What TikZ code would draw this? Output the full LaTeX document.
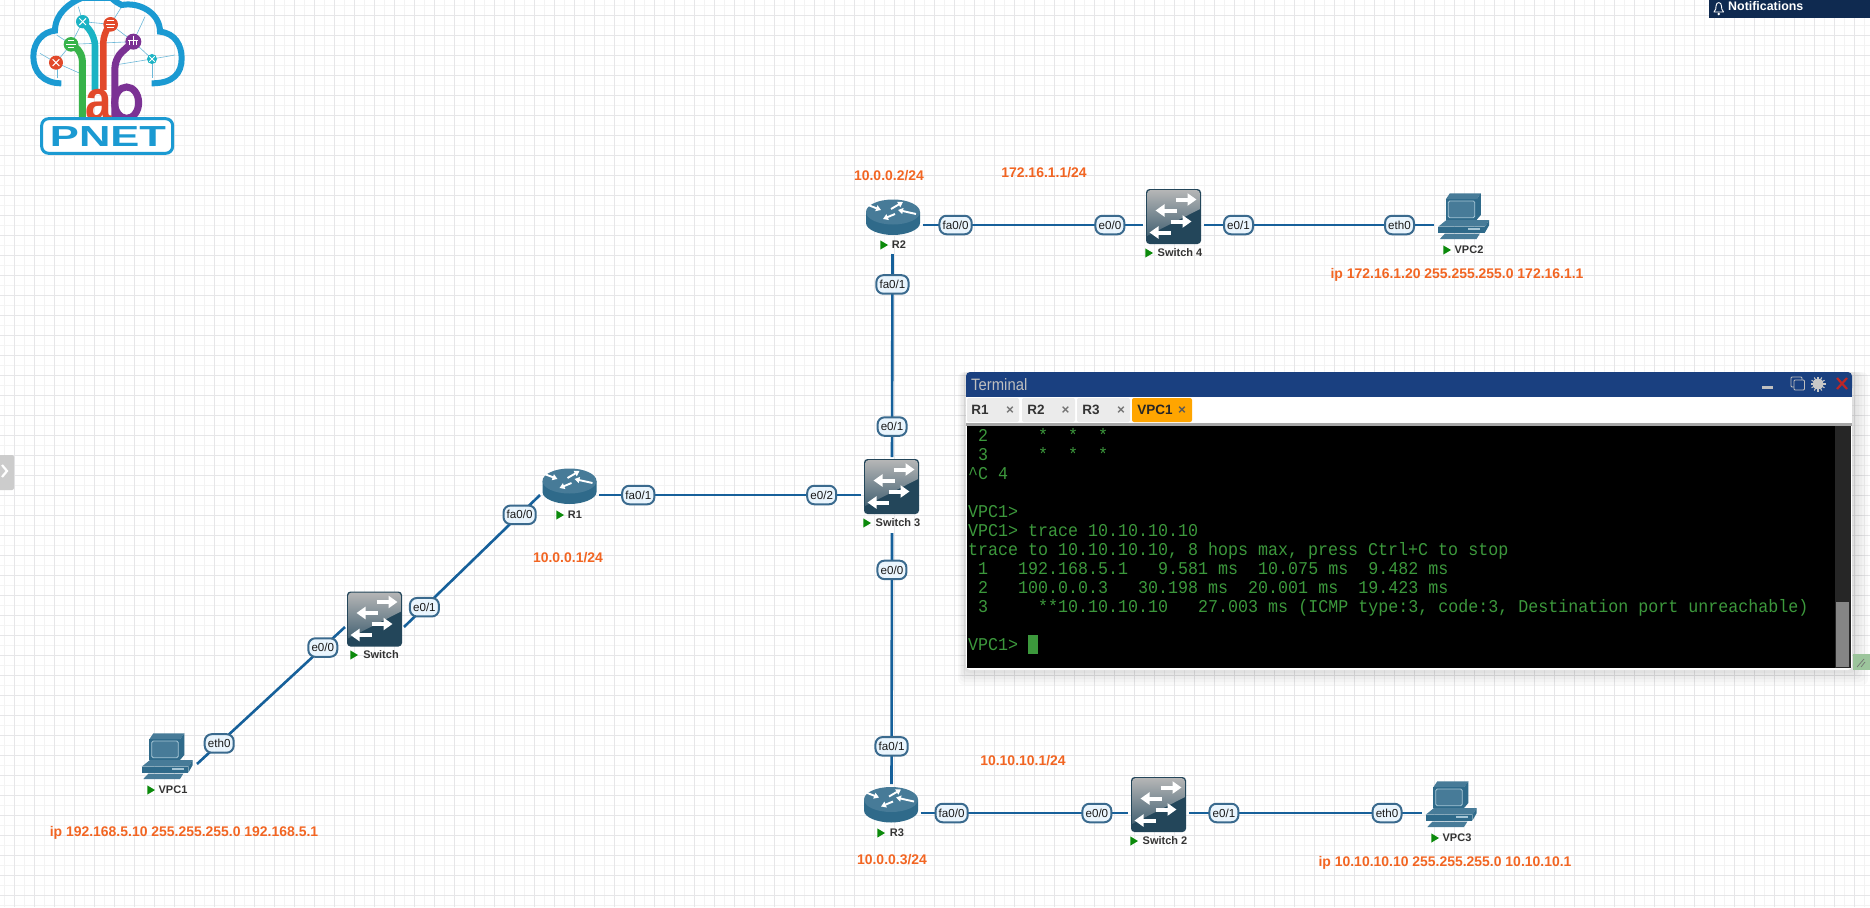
\documentclass[tikz,border=0pt]{standalone}
\usepackage{fontspec}
\setmainfont{Liberation Sans}
\newfontfamily\termfont[FakeStretch=0.926]{Liberation Mono}
\usetikzlibrary{arrows.meta}
\definecolor{gridminor}{HTML}{F3F3F3}
\definecolor{gridmajor}{HTML}{E6E6E8}
\definecolor{linkblue}{HTML}{16609A}
\definecolor{portedge}{HTML}{3A6A8E}
\definecolor{portfill}{HTML}{EAF5FD}
\definecolor{iptext}{HTML}{F26522}
\definecolor{devlight}{HTML}{477B98}
\definecolor{devdark}{HTML}{2F6A8A}
\definecolor{devline}{HTML}{A6C6D6}
\definecolor{swdark}{HTML}{23465A}
\definecolor{playgreen}{HTML}{0B8A0B}
\definecolor{termgreen}{HTML}{3C983C}
\definecolor{termblue}{HTML}{1A4080}
\definecolor{notifblue}{HTML}{0F2A50}
\definecolor{logoblue}{HTML}{1B9AD2}
\definecolor{logogreen}{HTML}{37B34A}
\definecolor{logoteal}{HTML}{1BB3C4}
\definecolor{logored}{HTML}{E2492A}
\definecolor{logopurple}{HTML}{7B3294}
\definecolor{logothin}{HTML}{6CB8D8}
\definecolor{taborange}{HTML}{FFA500}
\definecolor{gripgreen}{HTML}{9CC59C}
\tikzset{
  x=1pt,y=-1pt,
  netnode/.style={rectangle,inner sep=0pt,outer sep=0pt,draw=none,minimum width=#1},
  link/.style={draw=linkblue,line width=2.6pt},
  port/.style={rounded corners=7pt,draw=portedge,line width=2pt,fill=portfill,
    inner xsep=3.2pt,inner ysep=0pt,minimum height=18.5pt,text=black!90,
    font=\fontsize{11.6}{13}\selectfont},
  ipnote/.style={text=iptext,inner sep=0pt,yshift=-1pt,font=\fontsize{13.95}{16}\bfseries\selectfont},
  devname/.style={text=black!80,inner sep=0pt,font=\fontsize{11}{13}\bfseries\selectfont},
  termline/.style={anchor=base west,inner sep=0pt,text=termgreen,font=\termfont\fontsize{18}{19}\selectfont},
  tabtext/.style={inner sep=0pt,font=\fontsize{13.5}{15}\bfseries\selectfont},
  tabx/.style={inner sep=0pt,font=\fontsize{13.5}{14}\bfseries\selectfont},
  devarrow/.style={white,line width=1.9pt,-{Triangle[width=6pt,length=5pt]}},
  swarrow/.style={white,line width=4pt,-{Triangle[width=12pt,length=9pt]}},
  routerpic/.pic={
    \fill[devdark] (-27,-5) -- (-27,6) .. controls (-27,13) and (-13,18) .. (0,18)
      .. controls (13,18) and (27,13) .. (27,6) -- (27,-5) -- cycle;
    \fill[devlight] (0,-5) ellipse [x radius=27,y radius=12.5];
    \draw[devarrow] (-25,-12) -- (-12,-7);
    \draw[devarrow] (-2,-8) -- (10,-15);
    \draw[devarrow] (2,-3) -- (-10,2);
    \draw[devarrow] (23,-3) -- (5,-7);
  },
  switchpic/.pic={
    \fill[swdark,rounded corners=3.5pt] (-27.5,-27.5) rectangle (27.5,27.5);
    \begin{scope}
      \clip[rounded corners=3pt] (-26.3,-26.3) rectangle (26.3,26.3);
      \shade[top color=black!28,bottom color=swdark!85!white]
        (-27.5,-27.5) -- (27.5,-27.5) -- (27.5,-8) -- (-27.5,20) -- cycle;
    \end{scope}
    \draw[swarrow] (2,-17) -- (23,-17);
    \draw[swarrow] (3,-6) -- (-18,-6);
    \draw[swarrow] (-3,5) -- (18,5);
    \draw[swarrow] (-3,16) -- (-24,16);
  },
  pcpic/.pic={
    \fill[devlight] (-18.2,-16.7) -- (-14.2,-22.7) -- (16.8,-22.7) -- (12.5,-16.7) -- cycle;
    \fill[devdark] (12.5,-16.7) -- (16.8,-22.7) -- (16.8,-1) -- (12.5,4) -- cycle;
    \fill[devdark] (-18.2,-16.7) rectangle (12.5,4);
    \draw[devline,line width=.8pt,rounded corners=1.5pt,fill=devlight] (-15.8,-15) rectangle (10.8,1.7);
    \fill[devlight] (-25.8,10.7) -- (-17.5,4) -- (25.2,4) -- (20.8,10.7) -- cycle;
    \fill[devdark] (-25.8,10.7) -- (20.8,10.7) -- (20.8,16.7) -- (-25.8,16.7) -- cycle;
    \fill[devdark] (20.8,10.7) -- (25.2,4) -- (25.2,9) -- (20.8,16.7) -- cycle;
    \fill[devline] (4,12.2) rectangle (16,13.8);
    \fill[devlight] (-24.2,23) -- (-19.2,17.7) -- (15.8,17.7) -- (12.5,23) -- cycle;
  }
}
\newcommand{\devlabel}[5]{% name, triangle x, text x, y, text
  \fill[playgreen] (#2-3.7,#4+1-4.6) -- (#2+4,#4+1) -- (#2-3.7,#4+1+4.6) -- cycle;
  \node[devname] (#1) at (#3,#4+1) {#5};
}
\newcommand{\tline}[3]{\node[termline] (#1) at (968,#2+6.5) {#3};}
\begin{document}
\begin{tikzpicture}
\useasboundingbox (0,0) rectangle (1870,907);
\fill[white] (0,0) rectangle (1870,907);
% grid
\foreach \g in {4,14,...,1864} \draw[gridminor,line width=.8pt] (\g,0) -- (\g,907);
\foreach \g in {5,15,...,905} \draw[gridminor,line width=.8pt] (0,\g) -- (1870,\g);
\foreach \g in {14,34,...,1864} \draw[gridmajor,line width=.8pt] (\g,0) -- (\g,907);
\foreach \g in {15,35,...,905} \draw[gridmajor,line width=.8pt] (0,\g) -- (1870,\g);
% logo
\begin{scope}[x=.33333pt,y=-.33333pt]
  \clip (0,0) rectangle (660,510);
  \begin{scope}[logothin,line width=.6pt]
    \draw (120,160) -- (168,188) -- (213,133) -- (170,105);
    \draw (213,133) -- (248,65) -- (332,73) -- (400,125) -- (213,133);
    \draw (248,65) -- (235,20);
    \draw (332,73) -- (365,20);
    \draw (400,125) -- (435,50);
    \draw (400,125) -- (456,177) -- (525,165);
    \draw (456,177) -- (345,195);
    \draw (168,188) -- (240,220);
    \draw (172,235) -- (172,188);
    \draw (456,177) -- (456,235);
  \end{scope}
  \draw[logoblue,line width=6pt,line cap=butt] (184,250)
    .. controls (130,250) and (100,215) .. (100,170)
    .. controls (100,125) and (130,95) .. (165,92)
    .. controls (165,40) and (210,8) .. (245,-6)
    -- (335,-6)
    .. controls (345,5) and (355,10) .. (365,15)
    .. controls (420,5) and (480,40) .. (480,95)
    .. controls (525,100) and (545,135) .. (545,175)
    .. controls (545,220) and (520,250) .. (455,250);
  \draw[logogreen,line width=7pt,rounded corners=9pt] (213,133) -- (247,155) -- (247,358);
  \draw[logoteal,line width=6.5pt,rounded corners=9pt] (248,65) -- (285,110) -- (285,270);
  \draw[logored,line width=6.5pt,rounded corners=9pt] (332,73) -- (310,100) -- (310,270);
  \draw[logopurple,line width=7pt,rounded corners=9pt] (400,125) -- (345,175) -- (345,360);
  \draw[logopurple,line width=7pt] (380,308) ellipse [x radius=36,y radius=47];
  \node[inner sep=0pt,text=logored] (logoa) at (297,314) {\scalebox{1.08}[1.32]{\fontsize{44}{46}\bfseries\selectfont a}};
  \fill[logored] (168,188) circle (21);
  \fill[logogreen] (213,133) circle (22);
  \fill[logoteal] (248,65) circle (20);
  \fill[logored] (332,73) circle (22);
  \fill[logopurple] (400,125) circle (24);
  \fill[logoteal] (456,177) circle (15);
  \draw[white,line width=1pt] (158,178) -- (178,198) (178,178) -- (158,198);
  \draw[white,line width=1pt] (198,133) -- (228,133) (205,123) -- (221,123) (205,143) -- (221,143);
  \draw[white,line width=1pt] (238,55) -- (258,75) (258,55) -- (238,75);
  \draw[white,line width=1pt] (318,73) -- (346,73) (322,62) -- (342,62) (322,84) -- (342,84);
  \draw[white,line width=1pt] (385,122) -- (415,122) (400,108) -- (400,122) (389,122) -- (389,135) (400,122) -- (400,135) (411,122) -- (411,135);
  \draw[white,line width=.9pt] (448,169) -- (464,185) (464,169) -- (448,185);
  \draw[logoblue,line width=3pt,rounded corners=7pt,fill=white] (125,356) rectangle (518,460);
  \node[inner sep=0pt,text=logoblue] (logopnet) at (324,410) {\scalebox{1.5}[1]{\fontsize{29}{31}\bfseries\selectfont PNET}};
\end{scope}
% device boxes used as connector ends
\node[netnode=59pt,minimum height=58pt] (R1) at (569.5,495) {};
\node[netnode=60pt,minimum height=58pt] (R2) at (892.5,225) {};
\node[netnode=58pt,minimum height=58pt] (R3) at (891.5,813) {};
\node[netnode=59pt,minimum height=58pt] (SW) at (374.5,627) {};
\node[netnode=62pt,minimum height=76pt] (SW3) at (892,495) {};
\node[netnode=61pt,minimum height=58pt] (SW4) at (1173.5,225) {};
\node[netnode=61pt,minimum height=58pt] (SW2) at (1158.5,813) {};
\node[netnode=60pt,minimum height=58pt] (VPC1) at (167,764) {};
\node[netnode=60pt,minimum height=58pt] (VPC2) at (1464,225) {};
\node[netnode=59pt,minimum height=58pt] (VPC3) at (1451.5,813) {};
% connectors
\draw[link] (VPC1.east) -- node[port,pos=.15]{eth0} node[port,pos=.85]{e0/0} (SW.west);
\draw[link] (SW.east) -- node[port,pos=.15]{e0/1} node[port,pos=.85]{fa0/0} (R1.west);
\draw[link] (R1.east) -- node[port,pos=.15]{fa0/1} node[port,pos=.85]{e0/2} (SW3.west);
\draw[link] (R2.south) -- node[port,pos=.15]{fa0/1} node[port,pos=.85]{e0/1} (SW3.north);
\draw[link] (SW3.south) -- node[port,pos=.147]{e0/0} node[port,pos=.85]{fa0/1} (R3.north);
\draw[link] (R2.east) -- node[port,pos=.15]{fa0/0} node[port,pos=.85]{e0/0} (SW4.west);
\draw[link] (SW4.east) -- node[port,pos=.15]{e0/1} node[port,pos=.85]{eth0} (VPC2.west);
\draw[link] (R3.east) -- node[port,pos=.15]{fa0/0} node[port,pos=.85]{e0/0} (SW2.west);
\draw[link] (SW2.east) -- node[port,pos=.15]{e0/1} node[port,pos=.85]{eth0} (VPC3.west);
% icons
\pic at (569.5,486) {routerpic};
\pic at (893,217) {routerpic};
\pic at (891,804.5) {routerpic};
\pic at (374.5,619) {switchpic};
\pic at (891.5,486.5) {switchpic};
\pic at (1173.5,216.5) {switchpic};
\pic at (1158.5,804.5) {switchpic};
\pic at (167.5,756) {pcpic};
\pic at (1464,216) {pcpic};
\pic at (1451.5,804) {pcpic};
% device names
\devlabel{nR1}{560}{575}{514}{R1}
\devlabel{nR2}{884}{899}{244}{R2}
\devlabel{nR3}{881}{897}{832}{R3}
\devlabel{nSW}{354}{381}{654}{Switch}
\devlabel{nSW3}{867}{898}{522}{Switch 3}
\devlabel{nSW4}{1149}{1180}{252}{Switch 4}
\devlabel{nSW2}{1134}{1165}{840}{Switch 2}
\devlabel{nVPC1}{151}{173}{789}{VPC1}
\devlabel{nVPC2}{1447}{1469}{249}{VPC2}
\devlabel{nVPC3}{1435}{1457}{837}{VPC3}
% address notes
\node[ipnote] (a1) at (889,175) {10.0.0.2/24};
\node[ipnote] (a2) at (1044,172) {172.16.1.1/24};
\node[ipnote] (a3) at (1457,274) {ip 172.16.1.20 255.255.255.0 172.16.1.1};
\node[ipnote] (a4) at (568,557) {10.0.0.1/24};
\node[ipnote] (a5) at (184,832) {ip 192.168.5.10 255.255.255.0 192.168.5.1};
\node[ipnote] (a6) at (1023,760) {10.10.10.1/24};
\node[ipnote] (a7) at (892,859) {10.0.0.3/24};
\node[ipnote] (a8) at (1445,862) {ip 10.10.10.10 255.255.255.0 10.10.10.1};
% notifications
\fill[notifblue] (1709,0) rectangle (1870,18);
\draw[white,line width=.9pt,line join=round] (1714,12) .. controls (1716,10) and (1716,8) .. (1716,6)
  .. controls (1716,1.5) and (1721.5,1.5) .. (1721.5,6) .. controls (1721.5,8) and (1721.5,10) .. (1723.5,12) -- cycle;
\fill[white] (1718.7,14) circle (1.4);
\node[anchor=west,inner sep=0pt,text=white] (notif) at (1728,6) {\fontsize{12.4}{14}\bfseries\selectfont Notifications};
% left handle
\fill[black!20,rounded corners=2pt] (-4,455) rectangle (14,490);
\draw[white,line width=2.2pt] (2,465) -- (7,471) -- (2,477);
% terminal shadow
\foreach \s in {16,13,...,1}
  \fill[black,opacity=.022,rounded corners=6pt] (966-\s*.5,372) rectangle (1852+\s,669+\s);
% terminal
\fill[white,rounded corners=4pt] (966,372) rectangle (1852,670);
\fill[termblue,rounded corners=4pt] (966,372) rectangle (1852,392);
\fill[termblue] (966,385) rectangle (1852,397);
\fill[black!35] (966,423) rectangle (1852,426);
\fill[black] (967,426) rectangle (1851,668);
\fill[black!85] (1835,426) rectangle (1851,668);
\fill[black!48] (1836,602) rectangle (1849,667);
\fill[gripgreen] (1853,654) rectangle (1870,670);
\draw[black!55,line width=.7pt] (1857,667) -- (1864,659) (1861,667) -- (1865,662);
\node[anchor=west,inner sep=0pt,text=black!25!white] (ttitle) at (971,384.5) {\scalebox{.9}[1]{\fontsize{16.5}{18}\selectfont Terminal}};
\fill[black!25!white] (1762,385.5) rectangle (1773,388.5);
\draw[black!25!white,line width=.9pt,rounded corners=1pt] (1791,377) rectangle (1802,387);
\draw[black!25!white,line width=.9pt,rounded corners=1pt,fill=termblue] (1794,380) rectangle (1804.5,390);
\fill[black!22!white] (1818,384) circle (5.5);
\foreach \a in {0,30,...,330} \draw[black!22!white,line width=1.1pt] (1818,384) -- ++(\a:7.5);
\draw[red!70!black!85!white,line width=2.2pt] (1837,378) -- (1847,389) (1847,378) -- (1837,389);
% tabs
\fill[black!8,rounded corners=2pt] (967,398) rectangle (1019,422);
\fill[black!8,rounded corners=2pt] (1022,398) rectangle (1075,422);
\fill[black!8,rounded corners=2pt] (1077,398) rectangle (1130,422);
\fill[taborange,rounded corners=2pt] (1132,398) rectangle (1192,422);
\node[tabtext,text=black!80] (t1) at (980,410) {R1};
\node[tabtext,text=black!80] (t2) at (1036,410) {R2};
\node[tabtext,text=black!80] (t3) at (1091,410) {R3};
\node[tabtext,text=black!85] (t4) at (1155,410) {VPC1};
\node[tabx,text=black!55] (x1) at (1010,411) {×};
\node[tabx,text=black!55] (x2) at (1065.5,411) {×};
\node[tabx,text=black!55] (x3) at (1121,411) {×};
\node[tabx,text=black!65] (x4) at (1182,411) {×};
% terminal text
\tline{l1}{435}{~2~~~~~*~~*~~*}
\tline{l2}{454}{~3~~~~~*~~*~~*}
\tline{l3}{473}{\char"5E C~4}
\tline{l4}{511}{VPC1>}
\tline{l5}{530}{VPC1>~trace~10.10.10.10}
\tline{l6}{549}{trace~to~10.10.10.10,~8~hops~max,~press~Ctrl+C~to~stop}
\tline{l7}{568}{~1~~~192.168.5.1~~~9.581~ms~~10.075~ms~~9.482~ms}
\tline{l8}{587}{~2~~~100.0.0.3~~~30.198~ms~~20.001~ms~~19.423~ms}
\tline{l9}{606}{~3~~~~~**10.10.10.10~~~27.003~ms~(ICMP~type:3,~code:3,~Destination~port~unreachable)}
\tline{l10}{644}{VPC1>}
\fill[termgreen] (1028,635) rectangle (1037.5,654);
\end{tikzpicture}
\end{document}
